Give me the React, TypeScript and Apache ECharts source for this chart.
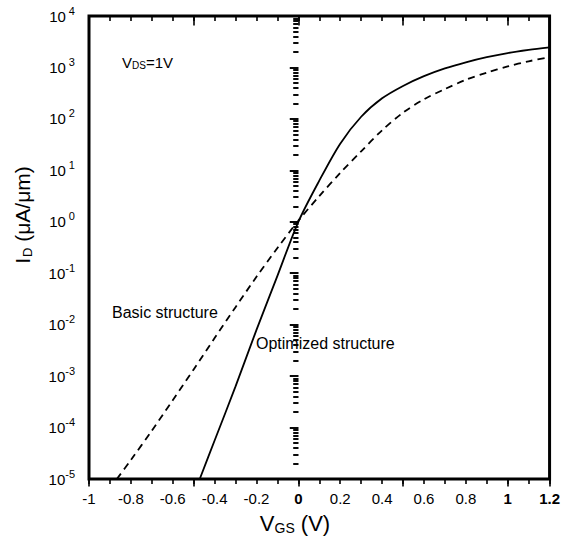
import React, { useEffect, useRef } from "react";
import * as echarts from "echarts";

// V_GS values (V)
const vgsBasic = [-0.867, -0.8, -0.7, -0.6, -0.5, -0.4, -0.3, -0.2, -0.1, 0, 0.1, 0.2, 0.3, 0.4, 0.5, 0.6, 0.7, 0.8, 0.9, 1.0, 1.1, 1.2];
// I_D basic structure (uA/um)
const idBasic = [1e-5, 2.34e-5, 8.7e-5, 3.39e-4, 1.35e-3, 5.5e-3, 0.0219, 0.0851, 0.309, 1.05, 3.16, 8.9, 23.4, 60, 132, 240, 380, 575, 794, 1047, 1318, 1585];

const vgsOpt = [-0.471, -0.4, -0.3, -0.2, -0.1, 0, 0.1, 0.2, 0.3, 0.4, 0.5, 0.6, 0.7, 0.8, 0.9, 1.0, 1.1, 1.2];
// I_D optimized structure (uA/um)
const idOpt = [1e-5, 5.6e-5, 6.3e-4, 7.9e-3, 0.089, 1.0, 6.3, 33, 110, 251, 437, 676, 955, 1259, 1585, 1905, 2188, 2455];

const boldXLabels = ["0", "1", "1.2"];

const X_MIN = -1;
const X_MAX = 1.2;
const Y_MIN = 1e-5;
const Y_MAX = 1e4;
const X_LABEL_STEP = 0.2;
const X_MINOR_STEP = 0.1;
const X_MAJOR_STEP = 0.5;

const FONT = "Liberation Sans";
const TICK_LINE = { color: "#000", width: 1.6 };

function tickXAxis(position: string, interval: number, length: number, inside: boolean) {
  return {
    type: "value",
    position,
    min: X_MIN,
    max: X_MAX,
    interval,
    axisLine: { show: false },
    axisLabel: { show: false },
    splitLine: { show: false },
    axisTick: { show: true, inside, length, lineStyle: TICK_LINE },
  };
}

export default function App() {
  const ref = useRef<HTMLDivElement>(null);

  useEffect(() => {
    if (!ref.current) return;
    const chart = echarts.init(ref.current, null, { renderer: "svg" });

    const option: any = {
      animation: false,
      backgroundColor: "#fff",
      grid: {
        left: 89,
        right: 12,
        top: 16,
        bottom: 63,
        show: true,
        borderColor: "#000",
        borderWidth: 3,
      },
      xAxis: [
        {
          type: "value",
          position: "bottom",
          min: X_MIN,
          max: X_MAX,
          interval: X_LABEL_STEP,
          axisLine: { show: false },
          axisTick: { show: false },
          splitLine: { show: false },
          axisLabel: {
            margin: 12,
            color: "#000",
            formatter: (v: number) => {
              const s = String(Math.round(v * 10) / 10);
              return boldXLabels.includes(s) ? `{b|${s}}` : `{n|${s}}`;
            },
            rich: {
              b: { fontFamily: FONT, fontSize: 15, fontWeight: "bold", color: "#000" },
              n: { fontFamily: FONT, fontSize: 15, color: "#000" },
            },
          },
        },
        tickXAxis("bottom", X_MINOR_STEP, 5, false),
        tickXAxis("bottom", X_MAJOR_STEP, 7.5, false),
        tickXAxis("top", X_MINOR_STEP, 5, true),
        tickXAxis("top", X_MAJOR_STEP, 9.5, true),
      ],
      yAxis: [
        {
          type: "log",
          logBase: 10,
          position: "left",
          min: Y_MIN,
          max: Y_MAX,
          splitNumber: 9,
          axisLine: { show: false },
          splitLine: { show: false },
          axisTick: { show: true, length: 8.5, lineStyle: TICK_LINE },
          minorTick: { show: true, splitNumber: 9, length: 5, lineStyle: TICK_LINE },
          axisLabel: {
            margin: 14,
            color: "#000",
            formatter: (v: number) => {
              const e = Math.round(Math.log10(v));
              const es = e >= 0 ? " " + e : String(e);
              return `{b|10}{s|${es}}`;
            },
            rich: {
              b: { fontFamily: FONT, fontSize: 15, color: "#000" },
              s: { fontFamily: FONT, fontSize: 11, color: "#000", padding: [0, 0, 11, 0] },
            },
          },
        },
        {
          type: "log",
          logBase: 10,
          position: "right",
          min: Y_MIN,
          max: Y_MAX,
          splitNumber: 9,
          axisLine: { show: false },
          splitLine: { show: false },
          axisLabel: { show: false },
          axisTick: { show: true, inside: true, length: 8.5, lineStyle: TICK_LINE },
          minorTick: { show: true, splitNumber: 9, length: 5, lineStyle: TICK_LINE },
        },
      ],
      series: [
        {
          type: "line",
          xAxisIndex: 0,
          yAxisIndex: 0,
          data: vgsBasic.map((v, i) => [v, idBasic[i]]),
          smooth: 0.3,
          showSymbol: false,
          lineStyle: { color: "#000", width: 1.8, type: [7, 5] },
        },
        {
          type: "line",
          xAxisIndex: 0,
          yAxisIndex: 0,
          data: vgsOpt.map((v, i) => [v, idOpt[i]]),
          smooth: 0.3,
          showSymbol: false,
          lineStyle: { color: "#000", width: 1.8, type: "solid" },
        },
      ],
      graphic: [
        {
          type: "text",
          x: 22,
          y: 215,
          rotation: Math.PI / 2,
          style: {
            text: "{m|I}{s|D}{m| (μA/μm)}",
            align: "center",
            verticalAlign: "middle",
            rich: {
              m: { fontFamily: FONT, fontSize: 21, fill: "#000" },
              s: { fontFamily: FONT, fontSize: 13, fill: "#000", padding: [10, 0, 0, 1] },
            },
          },
        },
        {
          type: "text",
          x: 295,
          y: 523,
          style: {
            text: "{m|V}{s|GS}{m| (V)}",
            align: "center",
            verticalAlign: "middle",
            rich: {
              m: { fontFamily: FONT, fontSize: 22, fill: "#000" },
              s: { fontFamily: FONT, fontSize: 14, fill: "#000", padding: [10, 0, 0, 0] },
            },
          },
        },
        {
          type: "text",
          x: 122,
          y: 62,
          style: {
            text: "{m|V}{s|DS}{m|=1V}",
            align: "left",
            verticalAlign: "middle",
            rich: {
              m: { fontFamily: FONT, fontSize: 15, fill: "#000" },
              s: { fontFamily: FONT, fontSize: 10, fill: "#000", padding: [7, 0, 0, 0] },
            },
          },
        },
        {
          type: "text",
          x: 112,
          y: 312,
          style: {
            text: "Basic structure",
            align: "left",
            verticalAlign: "middle",
            fontFamily: FONT,
            fontSize: 16,
            fill: "#000",
          },
        },
        {
          type: "text",
          x: 256,
          y: 343,
          style: {
            text: "Optimized structure",
            align: "left",
            verticalAlign: "middle",
            fontFamily: FONT,
            fontSize: 16,
            fill: "#000",
          },
        },
      ],
    };

    chart.setOption(option);
    return () => chart.dispose();
  }, []);

  return (
    <div
      ref={ref}
      style={{ position: "fixed", left: 0, top: 0, width: 563, height: 542, background: "#fff" }}
    />
  );
}
